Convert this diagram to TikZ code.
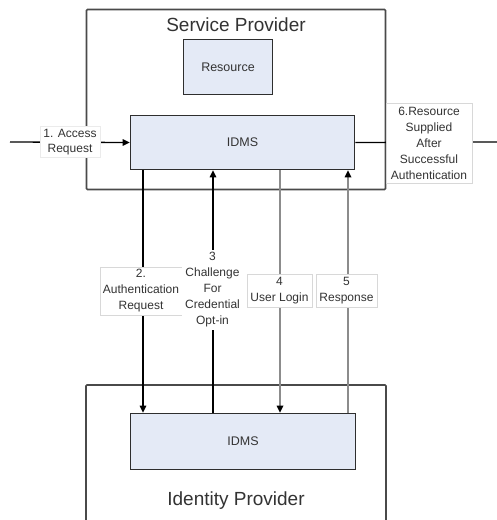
\documentclass[tikz,border=0pt]{standalone}
\usepackage{fontspec}
\setmainfont{Liberation Sans}
\usetikzlibrary{arrows.meta}
\definecolor{boxfill}{HTML}{E4EAF6}
\definecolor{framegray}{HTML}{4A4A4A}
\definecolor{edgedark}{HTML}{2E2E2E}
\definecolor{flowgray}{HTML}{8C8C8C}
\definecolor{tagborder}{HTML}{D8D8D8}
\definecolor{textgray}{HTML}{333333}
\begin{document}
\begin{tikzpicture}[x=1pt,y=-1pt,
  frame/.style={draw=framegray,line width=1.6pt,rounded corners=1pt},
  block/.style={draw=edgedark,line width=1.6pt,fill=boxfill,text=textgray,
    font=\fontsize{12.5}{15}\selectfont,inner sep=0pt},
  title/.style={text=textgray,font=\fontsize{19}{22}\selectfont},
  tag/.style={fill=white,draw=tagborder,line width=0.6pt,align=center,inner sep=0pt,
    text=textgray,font=\fontsize{12}{16}\selectfont},
  darkflow/.style={draw=black,line width=1.3pt},
  grayflow/.style={draw=flowgray,line width=1.6pt},
  tip/.style={-{Triangle[length=7pt,width=6.5pt,color=black]}}
]
\useasboundingbox (0,0) rectangle (497,520);
\fill[white] (0,0) rectangle (497,520);

% service provider side
\node[frame,minimum width=299pt,minimum height=180pt] (sp) at (236,99.5) {};
\node[title] (sptitle) at (236,25) {Service Provider};
\node[block,minimum width=89pt,minimum height=55pt] (res) at (228,67) {Resource};
\node[block,minimum width=224pt,minimum height=54pt] (idmsA) at (242.5,142.5) {IDMS};

% identity provider side (frame runs off the bottom edge)
\draw[frame] (86,520) |- (386,385) -- (386,520);
\node[block,minimum width=225pt,minimum height=56pt] (idmsB) at (243,441.5) {IDMS};
\node[title] (idptitle) at (236,501) {Identity Provider};

% columns of the message flows
\coordinate (c2) at (143,0);
\coordinate (c3) at (213,0);
\coordinate (c4) at (280,0);
\coordinate (c5) at (348,0);
\coordinate (inL) at (10,142);
\coordinate (outR) at (497,142);

% message flows
\draw[darkflow,tip] (inL) -- (idmsA.west);
\draw[darkflow] (idmsA.east) -- (outR);
\draw[darkflow,tip] (idmsA.south -| c2) -- (idmsB.north -| c2);
\draw[darkflow,tip] (idmsB.north -| c3) -- (idmsA.south -| c3);
\draw[grayflow,tip] (idmsA.south -| c4) -- (idmsB.north -| c4);
\draw[grayflow,tip] (idmsB.north -| c5) -- (idmsA.south -| c5);

% message labels
\node[tag,draw=tagborder!50,font=\fontsize{12}{15}\selectfont,minimum width=60pt,minimum height=31pt] (m1) at (70,142) {1. Access\\Request};
\node[tag,minimum width=82pt,minimum height=48pt] (m2) at (141,291) {2.\\Authentication\\Request};
\node[tag,draw=none,minimum width=61pt,minimum height=80pt] (m3) at (212.5,290) {3\\Challenge\\For\\Credential\\Opt-in};
\node[tag,minimum width=65pt,minimum height=33pt] (m4) at (279.5,291) {4\\User Login};
\node[tag,minimum width=61pt,minimum height=33pt] (m5) at (346.5,291) {5\\Response};
\node[tag,minimum width=86pt,minimum height=80pt] (m6) at (429,143) {6.Resource\\Supplied\\After\\Successful\\Authentication};
\end{tikzpicture}
\end{document}
